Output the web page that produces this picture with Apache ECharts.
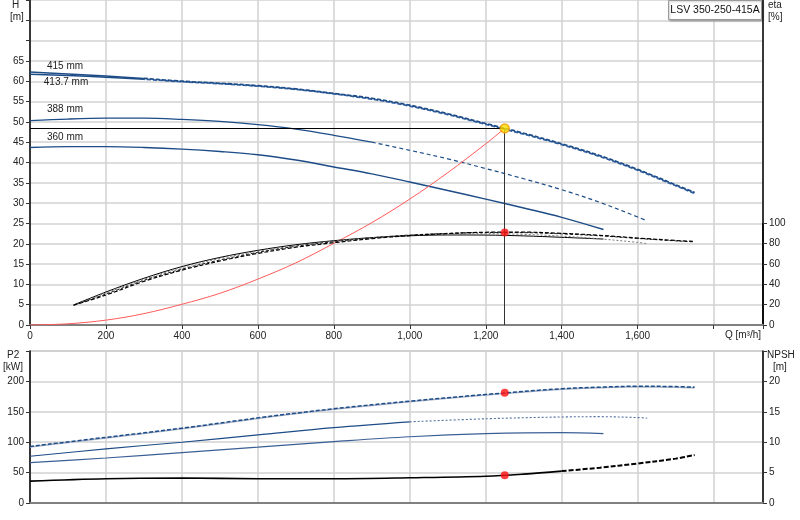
<!DOCTYPE html>
<html><head><meta charset="utf-8">
<script src="https://cdn.jsdelivr.net/npm/echarts@6/dist/echarts.min.js"></script>
<style>html,body{margin:0;padding:0;background:#fff}#c{width:800px;height:520px}</style>
</head><body><div id="c"></div>
<script>
// ---------- data ----------
const pumpName = 'LSV 350-250-415A';
const curveNames = ['415 mm', '413.7 mm', '388 mm', '360 mm'];

const qH415 = [0,100,200,300,400,500,600,700,800,900,1000,1100,1200,1300,1400,1500,1600,1700,1750];
const h415  = [62.3,61.8,61.3,60.7,60.0,59.5,58.9,58.1,57.0,55.8,54.1,52.0,49.6,47.2,44.6,41.7,38.3,34.5,32.6];
const h413  = [61.7,61.4,61.0,60.5,59.9,59.4,58.8,58.0,56.9,55.6,53.9,51.8,49.4,47.0,44.4,41.5,38.1,34.3,32.4];
const qH388 = [0,100,200,300,400,500,600,700,800,900,1000,1100,1200,1300,1400,1500,1600,1625];
const h388  = [50.3,50.7,50.9,50.9,50.6,50.1,49.3,48.2,46.7,45.0,43.0,40.9,38.5,36.0,33.3,30.2,26.6,25.6];
const qH360 = [0,100,200,300,400,500,600,700,800,900,1000,1100,1200,1300,1400,1510];
const h360  = [43.7,43.9,43.9,43.7,43.3,42.7,41.9,40.6,38.9,37.2,35.2,33.1,31.0,28.8,26.5,23.5];

const qSys = [0,100,200,300,400,500,600,700,800,900,1000,1100,1200,1250];
const hSys = [0,0.3,1.2,2.8,5.1,7.8,11.3,15.3,20.1,25.2,31.0,37.5,44.6,48.4];

const qEta415 = [115,200,300,400,500,600,700,800,900,1000,1100,1200,1300,1400,1500,1600,1700,1750];
const eta415  = [19.5,29.5,43,54,63,70.5,76.5,81,85,88,90,91.3,91.4,90.2,88.3,85.6,83.2,82.2];
const eta413  = [19.5,30.5,44,55,64,71.5,77.5,82,85.8,88.5,90.2,91,90.9,89.7,87.8,85.2,82.8,81.8];
const qEta388 = [115,200,300,400,500,600,700,800,900,1000,1100,1200,1300,1400,1500,1600,1625];
const eta388  = [19.5,31.5,45,56.5,65.5,72.5,78,82.5,86,88.5,89.6,89.9,89.2,87.5,84.8,81.3,80];
const qEta360 = [115,200,300,400,500,600,700,800,900,1000,1100,1200,1300,1400,1510];
const eta360  = [19.8,32.5,46,57.5,66.5,73.5,79,83,86,87.8,88.6,88.5,87.7,86.3,84.6];

const qP415 = [0,200,400,600,800,1000,1200,1400,1500,1600,1700,1750];
const p415  = [93,108,123,140,155,167.5,178.5,188,190.5,192,191.5,190.5];
const p413  = [92,107,122,139,154,166.5,177.5,187,189.5,191,190.5,189.5];
const qP388 = [0,200,400,600,800,1000,1200,1400,1500,1600,1625];
const p388  = [77,89,100,112,124,133.5,138.5,141.5,142,140.5,139.5];
const qP360 = [0,200,400,600,800,1000,1200,1400,1510];
const p360  = [66.5,74,83,92,101,109,114,115.8,114.2];

const qNpsh = [0,200,400,600,800,1000,1200,1300,1400,1500,1600,1700,1750];
const npsh  = [3.6,4.0,4.1,4.0,4.0,4.15,4.4,4.75,5.25,5.8,6.5,7.3,7.9];

const dutyQ = 1250, dutyH = 48.4, dutyEta = 91, dutyP2 = 181.5, dutyNpsh = 4.55;

// ---------- helpers ----------
const pts = (q, v) => q.map((x, i) => [x, v[i]]);
const upTo = (q, v, s) => pts(q, v).filter(p => p[0] <= s);
const from = (q, v, s) => pts(q, v).filter(p => p[0] >= s);
const BLUE = '#1d4c87';
const FONT = 'Liberation Sans, Arial, sans-serif';

function line(xi, yi, data, color, width, type, extra) {
  return Object.assign({
    type: 'line', xAxisIndex: xi, yAxisIndex: yi, data: data,
    showSymbol: false, symbol: 'none', smooth: 0.35, silent: true,
    lineStyle: { color: color, width: width, type: type || 'solid' }
  }, extra || {});
}
function nameLabel(q, v, text, off) {
  return { symbol: 'circle', symbolSize: 0, silent: true,
    label: { show: true, color: '#222', fontSize: 10, fontFamily: FONT },
    data: [{ coord: [q[0], v[0]], label: { formatter: text, offset: off } }] };
}

const X_MAX = 1930;
const split = { lineStyle: { color: '#d2d2d2', width: 1.5 } };
const lbl = { color: '#222', fontSize: 10, fontFamily: FONT };

const option = {
  animation: false,
  backgroundColor: '#fff',
  grid: [
    { left: 30, right: 37, top: 0, height: 325 },
    { left: 30, right: 37, top: 223.4, height: 101.6 },
    { left: 30, right: 37, top: 351, height: 152, show: true, borderColor: '#999', borderWidth: 1 }
  ],
  xAxis: [
    { gridIndex: 0, type: 'value', min: 0, max: X_MAX, interval: 200,
      axisLine: { show: true, onZero: false, lineStyle: { color: '#808080', width: 2 } },
      axisTick: { show: true, length: 4, lineStyle: { color: '#333' } },
      axisLabel: Object.assign({ margin: 6, formatter: v => v > 1600 ? '' : v.toLocaleString('en-US') }, lbl),
      splitLine: split,
      name: 'Q [m³/h]', nameLocation: 'end', nameGap: 0,
      nameTextStyle: { color: '#222', fontSize: 10, fontFamily: FONT, align: 'right', verticalAlign: 'top', padding: [5, 2, 0, 0] } },
    { gridIndex: 1, type: 'value', min: 0, max: X_MAX, show: false },
    { gridIndex: 2, type: 'value', min: 0, max: X_MAX, interval: 200,
      axisLine: { show: true, onZero: false, lineStyle: { color: '#808080', width: 2 } },
      axisTick: { show: false }, axisLabel: { show: false }, splitLine: split }
  ],
  yAxis: [
    { gridIndex: 0, type: 'value', min: 0, max: 80, interval: 5, position: 'left',
      axisLine: { show: true, onZero: false, lineStyle: { color: '#000', width: 1.5 } },
      axisTick: { show: true, length: 4, lineStyle: { color: '#333' } },
      axisLabel: Object.assign({ margin: 6, formatter: v => v > 65 ? '' : v }, lbl),
      splitLine: split },
    { gridIndex: 0, type: 'value', min: 0, max: 80, position: 'right',
      axisLine: { show: true, onZero: false, lineStyle: { color: '#000', width: 1.5 } },
      axisTick: { show: false }, axisLabel: { show: false }, splitLine: { show: false } },
    { gridIndex: 1, type: 'value', min: 0, max: 100, interval: 20, position: 'right',
      axisLine: { show: true, onZero: false, lineStyle: { color: '#000', width: 1.5 } },
      axisTick: { show: true, length: 4, lineStyle: { color: '#333' } },
      axisLabel: Object.assign({ margin: 6 }, lbl), splitLine: { show: false } },
    { gridIndex: 2, type: 'value', min: 0, max: 250, interval: 50, position: 'left',
      axisLine: { show: true, onZero: false, lineStyle: { color: '#000', width: 1.5 } },
      axisTick: { show: true, length: 4, lineStyle: { color: '#333' } },
      axisLabel: Object.assign({ margin: 6, formatter: v => v > 200 ? '' : v }, lbl),
      splitLine: split },
    { gridIndex: 2, type: 'value', min: 0, max: 25, interval: 5, position: 'right',
      axisLine: { show: true, onZero: false, lineStyle: { color: '#000', width: 1.5 } },
      axisTick: { show: true, length: 4, lineStyle: { color: '#333' } },
      axisLabel: Object.assign({ margin: 6, formatter: v => v > 20 ? '' : v }, lbl),
      splitLine: { show: false } }
  ],
  graphic: [
    { type: 'text', left: 12, top: 0, style: { text: 'H', fill: '#222', font: '10px ' + FONT } },
    { type: 'text', left: 10, top: 12, style: { text: '[m]', fill: '#222', font: '10px ' + FONT } },
    { type: 'text', left: 768, top: 0, style: { text: 'eta', fill: '#222', font: '10px ' + FONT } },
    { type: 'text', left: 768, top: 12, style: { text: '[%]', fill: '#222', font: '10px ' + FONT } },
    { type: 'text', left: 7, top: 350, style: { text: 'P2', fill: '#222', font: '10px ' + FONT } },
    { type: 'text', left: 3, top: 362, style: { text: '[kW]', fill: '#222', font: '10px ' + FONT } },
    { type: 'text', left: 767, top: 350, style: { text: 'NPSH', fill: '#222', font: '10px ' + FONT } },
    { type: 'text', left: 773, top: 362, style: { text: '[m]', fill: '#222', font: '10px ' + FONT } },
    { type: 'rect', shape: { x: 668.5, y: 0.5, width: 93, height: 19 },
      style: { fill: '#fff', stroke: '#9a9a9a', lineWidth: 1, shadowBlur: 2, shadowColor: 'rgba(0,0,0,0.25)', shadowOffsetX: 1, shadowOffsetY: 1 }, z: 100 },
    { type: 'text', x: 715, y: 10.5, z: 101,
      style: { text: pumpName, fill: '#111', font: '10.5px ' + FONT, align: 'center', verticalAlign: 'middle' } }
  ],
  series: [
    // H curves
    line(0, 0, upTo(qH415, h413, 300), BLUE, 1.5, 'solid', { markPoint: nameLabel(qH415, h413, curveNames[1], [36, 8]) }),
    line(0, 0, from(qH415, h413, 300), '#2f5f9f', 1.8, [4, 2], { lineStyle: { color: '#2f5f9f', width: 1.8, type: [4, 2], dashOffset: 3 } }),
    line(0, 0, upTo(qH415, h415, 300), BLUE, 1.5, 'solid', { markPoint: nameLabel(qH415, h415, curveNames[0], [35, -6]) }),
    line(0, 0, from(qH415, h415, 300), BLUE, 1.8, [4, 2]),
    line(0, 0, upTo(qH388, h388, 900), BLUE, 1.3, 'solid', { markPoint: nameLabel(qH388, h388, curveNames[2], [35, -11]) }),
    line(0, 0, from(qH388, h388, 900), BLUE, 1.2, [4, 3]),
    line(0, 0, pts(qH360, h360), BLUE, 1.4, 'solid', { markPoint: nameLabel(qH360, h360, curveNames[3], [35, -10]) }),
    // system curve
    line(0, 0, pts(qSys, hSys), '#ff5a5a', 1, 'solid'),
    // duty point + lines
    { type: 'scatter', xAxisIndex: 0, yAxisIndex: 0, data: [[dutyQ, dutyH]], symbolSize: 9, z: 20, silent: true,
      itemStyle: { color: '#ffe000', borderColor: '#f29a00', borderWidth: 1.5 },
      markLine: { silent: true, symbol: ['none', 'none'], label: { show: false },
        data: [
          [{ coord: [0, dutyH], lineStyle: { color: '#000', width: 1, type: 'solid' } }, { coord: [dutyQ, dutyH] }],
          [{ coord: [dutyQ, 0], lineStyle: { color: '#333', width: 1, type: 'solid' } }, { coord: [dutyQ, dutyH] }]
        ] } },
    // efficiency curves
    line(1, 2, pts(qEta360, eta360), '#000', 1, 'solid'),
    line(1, 2, pts(qEta388, eta388), '#777', 1, [2, 2]),
    line(1, 2, pts(qEta415, eta413), '#222', 1, [3, 2]),
    line(1, 2, pts(qEta415, eta415), '#000', 1.2, [4, 2]),
    { type: 'scatter', xAxisIndex: 1, yAxisIndex: 2, data: [[dutyQ, dutyEta]], symbolSize: 8, z: 20, silent: true,
      itemStyle: { color: '#ff1010' } },
    // P2 curves
    line(2, 3, pts(qP415, p413), '#a7b2c8', 1.5, 'solid'),
    line(2, 3, pts(qP415, p415), BLUE, 1.5, [4, 2]),
    line(2, 3, upTo(qP388, p388, 1000), BLUE, 1.1, 'solid'),
    line(2, 3, from(qP388, p388, 1000), '#4f6f9f', 1.1, [2, 2]),
    line(2, 3, pts(qP360, p360), '#3a5f95', 1.2, 'solid'),
    { type: 'scatter', xAxisIndex: 2, yAxisIndex: 3, data: [[dutyQ, dutyP2]], symbolSize: 8, z: 20, silent: true,
      itemStyle: { color: '#ff1010' } },
    // NPSH
    line(2, 4, upTo(qNpsh, npsh, 1400), '#000', 1.6, 'solid'),
    line(2, 4, from(qNpsh, npsh, 1400), '#000', 2, [5, 2]),
    { type: 'scatter', xAxisIndex: 2, yAxisIndex: 4, data: [[dutyQ, dutyNpsh]], symbolSize: 8, z: 20, silent: true,
      itemStyle: { color: '#ff1010' } }
  ]
};
const chart = echarts.init(document.getElementById('c'), null, { renderer: 'canvas' });
chart.setOption(option);
</script></body></html>
